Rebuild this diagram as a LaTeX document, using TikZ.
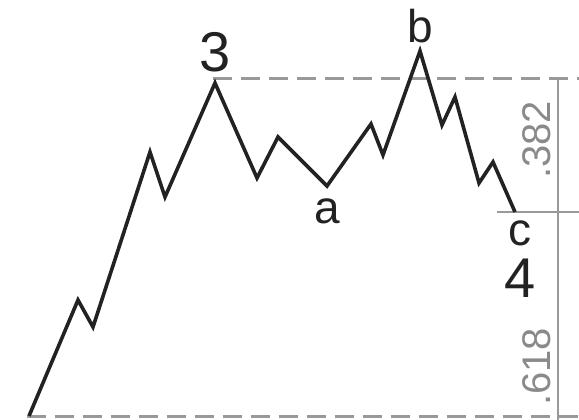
\documentclass[tikz,border=0pt]{standalone}
\usepackage{fontspec}
\setmainfont{Liberation Sans}
\usetikzlibrary{positioning}
\definecolor{wave}{HTML}{222222}
\definecolor{guide}{HTML}{999999}
\definecolor{ratio}{HTML}{8A8A8A}

\begin{document}
\begin{tikzpicture}[x=1pt,y=-1pt,
	wavy/.style={draw=wave,line width=3.6pt,line join=miter},
	level/.style={draw=guide,line width=3pt,dash pattern=on 19pt off 9pt},
	ruler/.style={draw=guide,line width=1.6pt},
	bigtag/.style={inner sep=0pt,text=wave,font=\fontsize{56}{56}\selectfont},
	tag/.style={inner sep=0pt,text=wave,font=\fontsize{46}{46}\selectfont},
	fib/.style={inner sep=0pt,text=ratio,rotate=90,font=\fontsize{40}{40}\selectfont}]
	\useasboundingbox (0,0) rectangle (579,420);
	% wave points
	\coordinate (start) at (29,416);
	\coordinate (w1) at (78,300);
	\coordinate (w2) at (93,327);
	\coordinate (w3) at (150,152);
	\coordinate (w4) at (165,197);
	\coordinate (top3) at (215,83);
	\coordinate (w5) at (257,178);
	\coordinate (w6) at (278,137);
	\coordinate (lowa) at (327,186);
	\coordinate (w7) at (371,124);
	\coordinate (w8) at (383,155);
	\coordinate (topb) at (420,51);
	\coordinate (w9) at (442,125);
	\coordinate (w10) at (455,97);
	\coordinate (w11) at (479,183);
	\coordinate (w12) at (493,162);
	\coordinate (endc) at (515,212);
	% guide ends
	\coordinate (topR) at (579,79);
	\coordinate (topL) at (213,79);
	\coordinate (botL) at (27,416);
	\coordinate (botR) at (579,416);
	\coordinate (rulTop) at (558,79);
	\coordinate (rulBot) at (558,420);
	\coordinate (cL) at (497,212);
	\coordinate (cR) at (579,212);

	\path[level] (topL) -- (topR);
	\path[level] (botL) -- (botR);
	\path[ruler] (rulTop) -- (rulBot);
	\path[ruler] (cL) -- (cR);

	\path[wavy] (start) -- (w1) -- (w2) -- (w3) -- (w4) -- (top3) -- (w5) -- (w6)
		-- (lowa) -- (w7) -- (w8) -- (topb) -- (w9) -- (w10) -- (w11) -- (w12) -- (endc);

	\node[bigtag] (t3) at (215,52) {3};
	\node[bigtag] (t4) at (520,278) {4};
	\node[tag] (tb) at (420,26) {b};
	\node[tag] (ta) at (327,211) {a};
	\node[tag] (tc) at (520,233) {c};
	\node[fib] (f382) at (537,140) {.382};
	\node[fib] (f618) at (537,367) {.618};
\end{tikzpicture}
\end{document}
